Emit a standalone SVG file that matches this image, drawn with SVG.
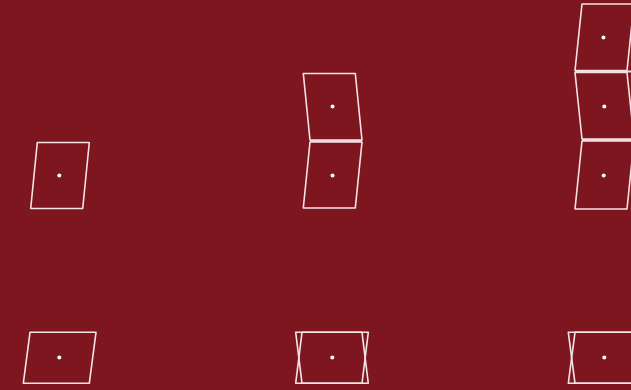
<svg xmlns="http://www.w3.org/2000/svg" width="631" height="390" viewBox="0 0 631 390">
<style>
.q{fill:none;stroke:#f4e4e6;stroke-width:1.6;stroke-linejoin:round}
.d{fill:#ffffff}
</style>
<rect x="0" y="0" width="631" height="390" fill="#7e1620"/>
<g id="n1">
<polygon class="q" points="37.3,142.5 89.3,142.5 82.7,208.5 30.7,208.5"/>
<circle class="d" cx="59.3" cy="175.5" r="2"/>
</g>
<g id="n2">
<polygon class="q" points="303.3,73.5 355.3,73.5 362,140 310,140"/>
<polygon class="q" points="310,142 362,142 355.3,208 303.3,208"/>
<circle class="d" cx="332.5" cy="106.5" r="2"/>
<circle class="d" cx="332.5" cy="175.5" r="2"/>
<rect x="310" y="140" width="52" height="2" fill="#f1dcdf"/>
</g>
<g id="n3">
<polygon class="q" points="582,4 634,4 627,70.5 575,70.5"/>
<polygon class="q" points="575,72.5 627,72.5 634,139 582,139"/>
<polygon class="q" points="582,141 634,141 627,209 575,209"/>
<rect x="575" y="70.5" width="56" height="2" fill="#f1dcdf"/>
<rect x="582" y="139" width="49" height="2" fill="#f1dcdf"/>
<circle class="d" cx="603.5" cy="37.5" r="2"/>
<circle class="d" cx="604.3" cy="106.5" r="2"/>
<circle class="d" cx="603.7" cy="175.5" r="2"/>
</g>
<g id="n4">
<polygon class="q" points="30,332.3 96,332.3 89.3,383.3 23.3,383.3"/>
<circle class="d" cx="59.3" cy="357.5" r="2"/>
</g>
<g id="n5">
<polygon class="q" points="302,332.3 368.3,332.3 362,383.3 295.7,383.3"/>
<polygon class="q" points="295.7,332.3 362,332.3 368.3,383.3 302,383.3"/>
<circle class="d" cx="332.3" cy="357.5" r="2"/>
</g>
<g id="n6">
<polygon class="q" points="575,332.3 641,332.3 634,383.3 568.3,383.3"/>
<polygon class="q" points="568.3,332.3 634,332.3 641,383.3 575,383.3"/>
<circle class="d" cx="604.3" cy="357.5" r="2"/>
</g>
<g id="connectors"/>
</svg>
